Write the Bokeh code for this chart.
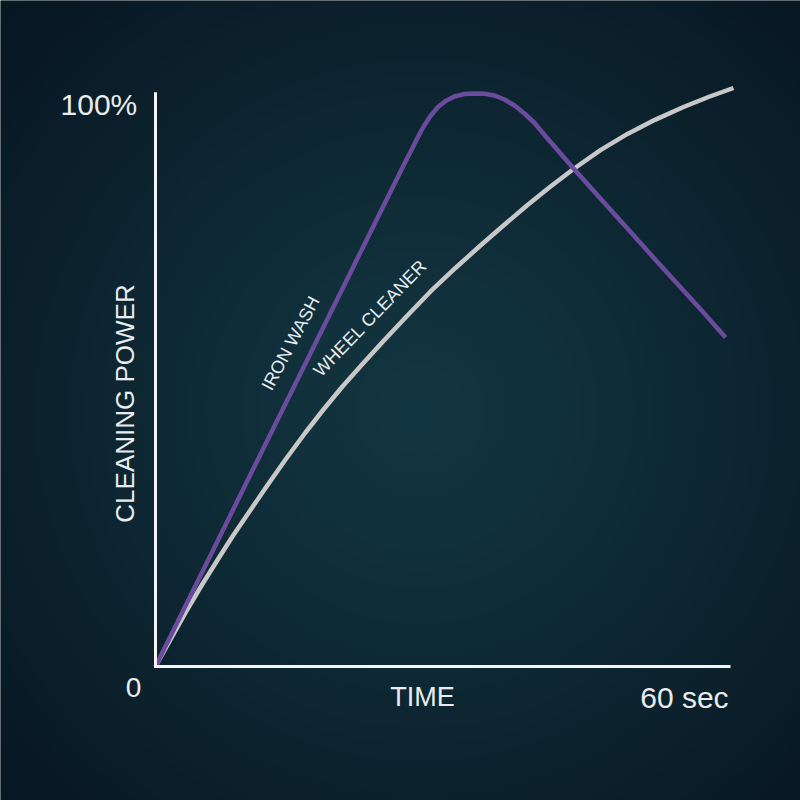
import numpy as np
from bokeh.plotting import figure
from bokeh.models import Range1d, Label
from bokeh.embed import file_html
from bokeh.resources import INLINE

# Cleaning power (% of maximum) over time (seconds)
iron_time = [0, 10, 20, 26.09, 26.82, 27.44, 28.07, 28.70, 29.43, 30.26, 31.20,
             32.24, 33.29, 34.33, 35.37, 36.42, 37.46, 38.50, 39.55, 40.59,
             43.62, 46.4, 49.9, 53.4, 56.9, 59.48]
iron_power = [0, 33.8, 67.6, 88.13, 90.49, 92.58, 94.50, 96.07, 97.56, 98.69, 99.48,
              99.91, 100.0, 99.95, 99.65, 98.95, 97.91, 96.51, 94.85, 92.76,
              86.91, 81.7, 75.2, 68.7, 62.3, 57.4]

wheel_time = [0, 1.04, 2.09, 3.44, 4.90, 6.47, 8.03, 9.70, 11.48, 13.57, 15.65,
              17.53, 19.51, 21.60, 23.69, 26.19, 28.70, 31.30, 33.91, 36.31,
              38.82, 41.22, 43.62, 46.43, 49.25, 52.17, 55.10, 57.70, 60.31]
wheel_power = [0, 3.14, 6.28, 10.30, 14.40, 18.59, 22.69, 26.79, 31.15, 36.13, 40.84,
               44.85, 48.87, 52.79, 56.63, 61.08, 65.45, 69.55, 73.47, 76.96,
               80.54, 83.77, 86.82, 90.12, 92.95, 95.45, 97.64, 99.39, 100.96]

axis_time = [0, 0, 60]
axis_power = [100.2, 0, 0]

series_labels = ["IRON WASH", "WHEEL CLEANER"]

FONT = "Liberation Sans"
TEXT_COLOR = "#e9ecee"
IRON_COLOR = "#6b4b9e"
WHEEL_COLOR = "#c8c8c8"

# view: 0 s sits 155 px from the left, 60 s at 730 px; 0 % at 666 px, 100 % at 93 px
PX_PER_S = 575 / 60.0
PX_PER_PCT = 573 / 100.0
X0, X1 = -155 / PX_PER_S, (800 - 155) / PX_PER_S
Y0, Y1 = -(800 - 666) / PX_PER_PCT, 666 / PX_PER_PCT

p = figure(width=800, height=800, x_range=Range1d(X0, X1), y_range=Range1d(Y0, Y1),
           output_backend="svg", toolbar_location=None, min_border=0,
           outline_line_color=None, background_fill_color="#0a1b26",
           border_fill_color="#0a1b26")
p.axis.visible = False
p.grid.visible = False

# radial background glow
n = 300
img = np.empty((n, n), dtype=np.uint32)
view = img.view(dtype=np.uint8).reshape((n, n, 4))
cols = (np.arange(n) + 0.5) * 800 / n
rows = 800 - (np.arange(n) + 0.5) * 800 / n
gx, gy = np.meshgrid(cols, rows)
d = np.sqrt((gx - 420) ** 2 + (gy - 410) ** 2)
t = np.clip(d / 580.0, 0, 1) ** 1.1
center = np.array([19, 55, 66])
edge = np.array([8, 22, 33])
for k in range(3):
    view[:, :, k] = (center[k] + (edge[k] - center[k]) * t).astype(np.uint8)
view[:, :, 3] = 255
p.image_rgba(image=[img], x=X0, y=Y0, dw=X1 - X0, dh=Y1 - Y0)

# curves
p.line(wheel_time, wheel_power, line_color=WHEEL_COLOR, line_width=4.5,
       line_join="round", line_cap="butt")
p.line(iron_time, iron_power, line_color=IRON_COLOR, line_width=4.5,
       line_join="round", line_cap="butt")

# axes
p.line(axis_time, axis_power, line_color="#f4f4f4", line_width=3, line_join="miter")


def add_label(text, x, y, size, align="center", baseline="middle", angle=0.0):
    p.add_layout(Label(x=x, y=y, text=text, text_font=FONT, text_font_size=size,
                       text_color=TEXT_COLOR, text_align=align,
                       text_baseline=baseline, angle=angle, angle_units="deg"))


add_label("100%", -1.9, 98.1, "30px", align="right")
add_label("0", -2.3, -3.6, "28px")
add_label("TIME", 27.85, -5.4, "27px")
add_label("60 sec", 59.8, -5.4, "30px", align="right")
add_label("CLEANING POWER", -3.15, 45.9, "26px", angle=90)
add_label(series_labels[0], 14.1, 56.4, "18px", angle=62)
add_label(series_labels[1], 22.4, 60.8, "18px", angle=46)

open("out.html", "w").write(file_html(p, INLINE))
